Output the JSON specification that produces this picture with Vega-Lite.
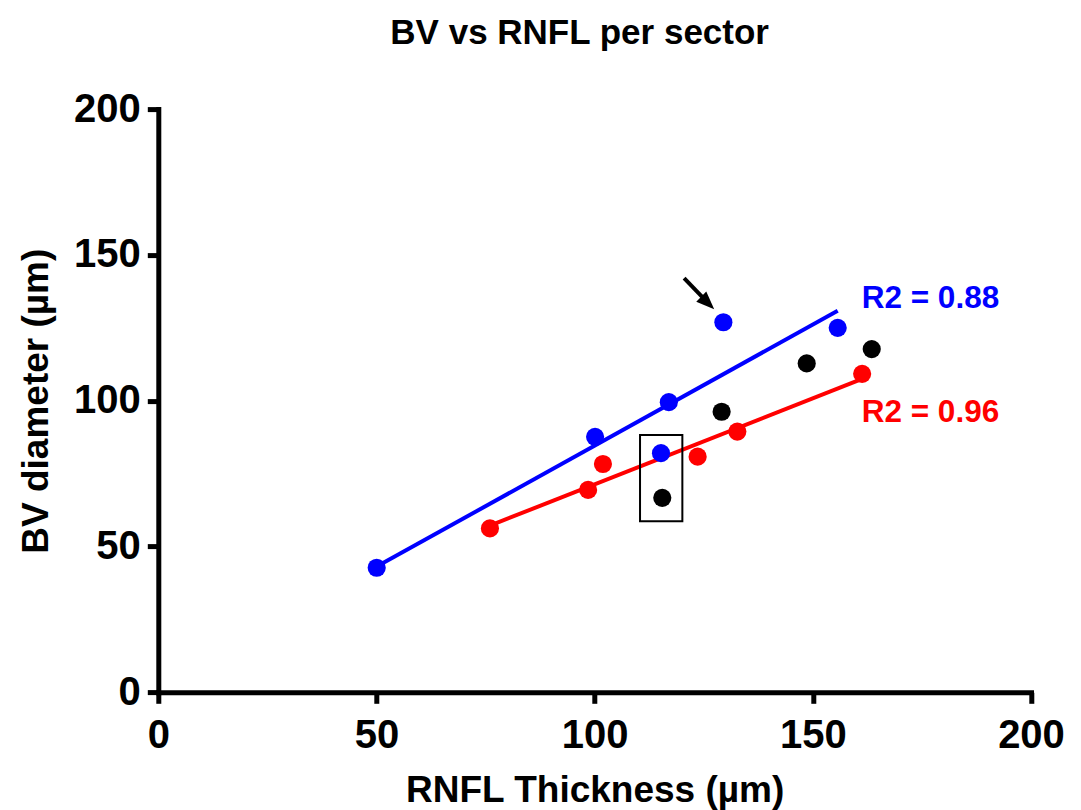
{
  "$schema": "https://vega.github.io/schema/vega-lite/v6.json",
  "autosize": "none",
  "width": 872.7,
  "height": 583.2,
  "padding": {"left": 158.3, "top": 109.1, "right": 50, "bottom": 117.7},
  "background": "white",
  "config": {
    "view": {"stroke": null},
    "font": "Liberation Sans",
    "axis": {
      "grid": false,
      "domainColor": "black",
      "domainWidth": 5,
      "domainCap": "square",
      "tickColor": "black",
      "tickWidth": 5,
      "tickSize": 11,
      "labelFlush": false,
      "labelFont": "Liberation Sans",
      "labelFontSize": 40,
      "labelFontWeight": "bold",
      "labelColor": "black",
      "titleFont": "Liberation Sans",
      "titleFontSize": 37,
      "titleFontWeight": "bold",
      "titleColor": "black"
    }
  },
  "title": {
    "text": "BV vs RNFL per sector",
    "font": "Liberation Sans",
    "fontSize": 35,
    "fontWeight": "bold",
    "color": "black",
    "frame": "group",
    "anchor": "middle",
    "dx": -15,
    "offset": 38
  },
  "datasets": {
    "pts": [
      {"x": 50.05, "y": 42.7, "group": "blue"},
      {"x": 100.1, "y": 87.6, "group": "blue"},
      {"x": 115.2, "y": 82.0, "group": "blue"},
      {"x": 117.0, "y": 99.5, "group": "blue"},
      {"x": 129.5, "y": 126.9, "group": "blue"},
      {"x": 155.7, "y": 125.0, "group": "blue"},
      {"x": 76.0, "y": 56.2, "group": "red"},
      {"x": 98.5, "y": 69.4, "group": "red"},
      {"x": 101.9, "y": 78.3, "group": "red"},
      {"x": 123.6, "y": 80.8, "group": "red"},
      {"x": 132.7, "y": 89.4, "group": "red"},
      {"x": 161.3, "y": 109.2, "group": "red"},
      {"x": 115.5, "y": 66.7, "group": "black"},
      {"x": 129.1, "y": 96.2, "group": "black"},
      {"x": 148.6, "y": 112.8, "group": "black"},
      {"x": 163.5, "y": 117.7, "group": "black"}
    ],
    "labels": [
      {"x": 161.2, "y": 134.8, "group": "blue", "label": "R2 = 0.88"},
      {"x": 161.2, "y": 95.8, "group": "red", "label": "R2 = 0.96"}
    ],
    "box": [
      {"x": 110.4, "x2": 120.1, "y": 58.7, "y2": 88.2}
    ],
    "arrow": [
      {"x": 120.5, "y": 142.0},
      {"x": 125.8, "y": 133.8}
    ],
    "head": [
      {"x": 127.4, "y": 131.4}
    ]
  },
  "layer": [
    {
      "data": {"name": "pts"},
      "transform": [
        {"filter": "datum.group !== 'black'"},
        {"regression": "y", "on": "x", "groupby": ["group"]}
      ],
      "mark": {"type": "line", "strokeWidth": 4},
      "encoding": {
        "x": {"field": "x", "type": "quantitative", "scale": {"domain": [0, 200], "nice": false, "zero": false},
              "axis": {"values": [0, 50, 100, 150, 200], "title": "RNFL Thickness (µm)", "labelPadding": 12, "titlePadding": 17}},
        "y": {"field": "y", "type": "quantitative", "scale": {"domain": [0, 200], "nice": false, "zero": false},
              "axis": {"values": [0, 50, 100, 150, 200], "title": "BV diameter (µm)", "labelPadding": 7, "titlePadding": 18}},
        "color": {"field": "group", "type": "nominal", "scale": {"domain": ["blue", "red", "black"], "range": ["#0000ff", "#ff0000", "#000000"]}, "legend": null}
      }
    },
    {
      "data": {"name": "pts"},
      "mark": {"type": "point", "shape": "circle", "filled": true, "opacity": 1, "size": 330},
      "encoding": {
        "x": {"field": "x", "type": "quantitative"},
        "y": {"field": "y", "type": "quantitative"},
        "color": {"field": "group", "type": "nominal", "legend": null}
      }
    },
    {
      "data": {"name": "labels"},
      "mark": {"type": "text", "align": "left", "baseline": "middle", "fontSize": 31.5, "fontWeight": "bold", "font": "Liberation Sans"},
      "encoding": {
        "x": {"field": "x", "type": "quantitative"},
        "y": {"field": "y", "type": "quantitative"},
        "text": {"field": "label"},
        "color": {"field": "group", "type": "nominal", "legend": null}
      }
    },
    {
      "data": {"name": "box"},
      "mark": {"type": "rect", "fill": null, "stroke": "black", "strokeWidth": 2},
      "encoding": {
        "x": {"field": "x", "type": "quantitative"},
        "x2": {"field": "x2"},
        "y": {"field": "y", "type": "quantitative"},
        "y2": {"field": "y2"}
      }
    },
    {
      "data": {"name": "arrow"},
      "mark": {"type": "line", "color": "black", "strokeWidth": 4},
      "encoding": {
        "x": {"field": "x", "type": "quantitative"},
        "y": {"field": "y", "type": "quantitative"}
      }
    },
    {
      "data": {"name": "head"},
      "mark": {"type": "point", "shape": "M0,0L-0.8,2L0.8,2Z", "filled": true, "color": "black", "opacity": 1, "size": 324, "angle": 134, "strokeWidth": 0},
      "encoding": {
        "x": {"field": "x", "type": "quantitative"},
        "y": {"field": "y", "type": "quantitative"}
      }
    }
  ]
}
